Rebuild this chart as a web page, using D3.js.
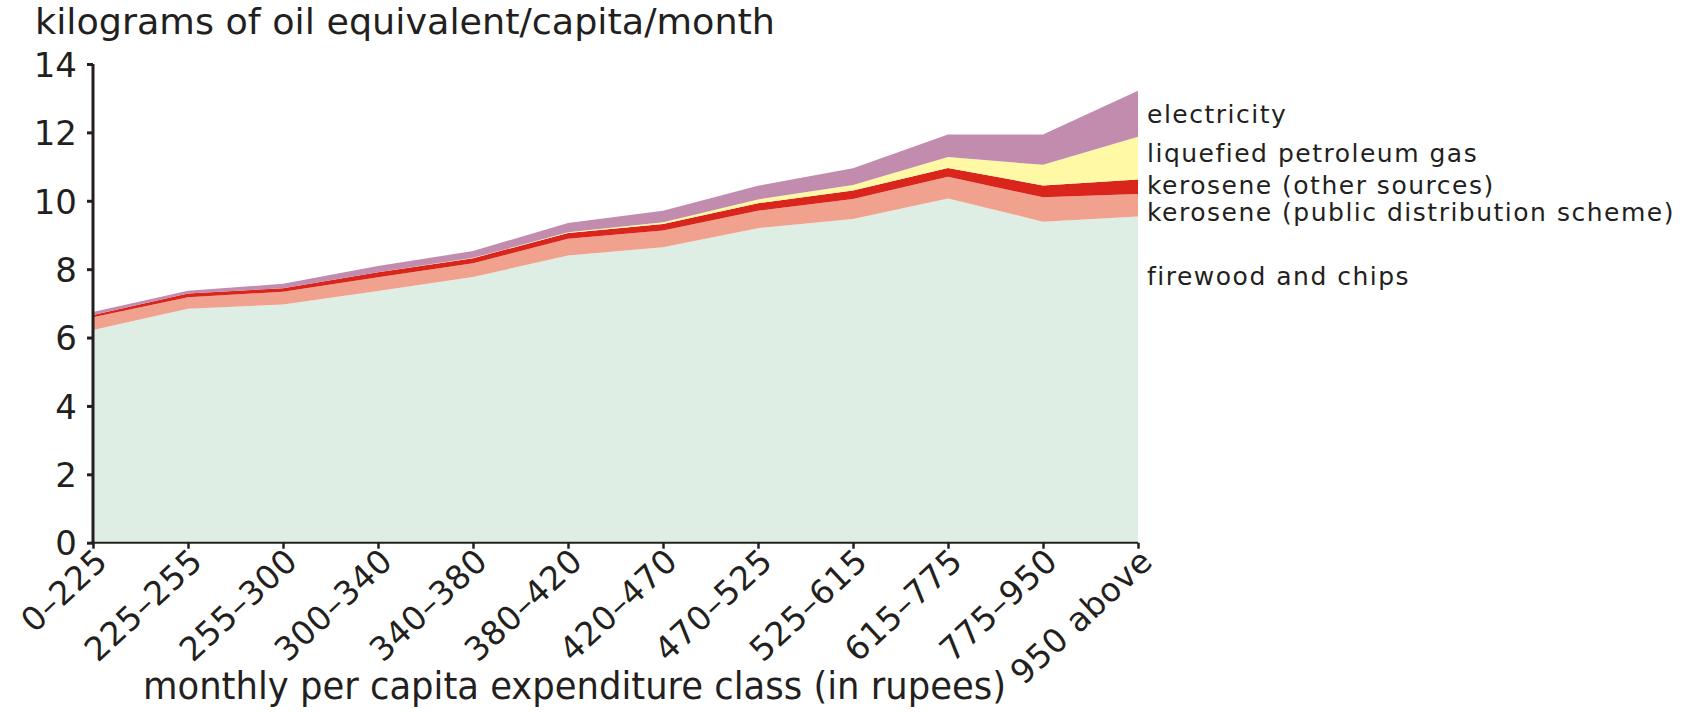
<!DOCTYPE html>
<html>
<head>
<meta charset="utf-8">
<script src="https://cdn.jsdelivr.net/npm/d3@7"></script>
<style>
  html, body { margin: 0; padding: 0; background: #ffffff; }
  svg { display: block; }
</style>
</head>
<body>
<svg id="chart" width="1683" height="712"></svg>
<script>
// ---- data ----
const categories = ["0–225", "225–255", "255–300", "300–340", "340–380", "380–420",
                    "420–470", "470–525", "525–615", "615–775", "775–950", "950 above"];
const firewood    = [6.22, 6.84, 6.97, 7.36, 7.77, 8.40, 8.64, 9.20, 9.47, 10.07, 9.39, 9.54];
const keroPDS     = [0.37, 0.34, 0.37, 0.40, 0.40, 0.49, 0.49, 0.51, 0.58, 0.63, 0.71, 0.66];
const keroOther   = [0.07, 0.11, 0.10, 0.15, 0.15, 0.17, 0.19, 0.22, 0.25, 0.26, 0.35, 0.42];
const lpg         = [0.00, 0.00, 0.00, 0.00, 0.01, 0.02, 0.05, 0.11, 0.16, 0.32, 0.60, 1.25];
const electricity = [0.09, 0.08, 0.13, 0.18, 0.20, 0.27, 0.34, 0.40, 0.49, 0.66, 0.89, 1.35];
const yTicks = [0, 2, 4, 6, 8, 10, 12, 14];
const seriesKeys   = ["firewood", "keroPDS", "keroOther", "lpg", "electricity"];
const seriesLabels = ["firewood and chips", "kerosene (public distribution scheme)",
                      "kerosene (other sources)", "liquefied petroleum gas", "electricity"];
const yTitle = "kilograms of oil equivalent/capita/month";
const xTitle = "monthly per capita expenditure class (in rupees)";

// ---- styles ----
const colors = { firewood: "#deeee4", keroPDS: "#f0a28f", keroOther: "#da251d", lpg: "#fff9a6", electricity: "#c18cad" };
const labelY = { electricity: 123, lpg: 162, keroOther: 194, keroPDS: 221, firewood: 285 };
const ink = "#231f20";
const condensed = "'Liberation Sans Narrow', 'DejaVu Sans Condensed', 'Arial Narrow', sans-serif";
const wide = "'DejaVu Sans', Verdana, sans-serif";

const table = categories.map((c, i) => ({
  cat: c, firewood: firewood[i], keroPDS: keroPDS[i], keroOther: keroOther[i],
  lpg: lpg[i], electricity: electricity[i]
}));

const svg = d3.select("#chart");
const x = d3.scalePoint().domain(categories).range([93, 1138]);
const y = d3.scaleLinear().domain([0, 14]).range([542.7, 64]);

const stacked = d3.stack().keys(seriesKeys)(table);
const area = d3.area()
  .x(d => x(d.data.cat))
  .y0(d => y(d[0]))
  .y1(d => y(d[1]));

svg.append("g").selectAll("path")
  .data(stacked)
  .join("path")
  .attr("d", area)
  .attr("fill", d => colors[d.key])
  .attr("stroke", "none");

// y axis
const yAxis = svg.append("g")
  .attr("transform", "translate(93,0)")
  .call(d3.axisLeft(y).tickValues(yTicks).tickSize(6).tickPadding(10).tickFormat(d3.format("d")));
yAxis.select(".domain").attr("d", `M0,${y(14)}V${y(0)}`).attr("stroke", ink).attr("stroke-width", 3);
yAxis.selectAll(".tick line").attr("stroke", ink).attr("stroke-width", 3);
yAxis.selectAll(".tick text")
  .attr("fill", ink)
  .style("font-family", wide)
  .style("font-size", "34px")
  .attr("dy", "0.36em");

// x axis
const xAxis = svg.append("g")
  .attr("transform", `translate(0,${y(0)})`)
  .call(d3.axisBottom(x).tickSize(6).tickPadding(0));
xAxis.select(".domain").attr("d", `M93,0H1138`).attr("stroke", ink).attr("stroke-width", 2);
xAxis.selectAll(".tick line").attr("stroke", ink).attr("stroke-width", 2.5);
xAxis.selectAll(".tick text")
  .attr("fill", ink)
  .style("font-family", wide)
  .style("font-size", "33px")
  .style("letter-spacing", "0.5px")
  .attr("text-anchor", "end")
  .attr("x", 0).attr("y", 0).attr("dy", 0)
  .attr("transform", "translate(16,21) rotate(-43)");

// titles
svg.append("text")
  .attr("x", 35).attr("y", 34)
  .attr("fill", ink)
  .style("font-family", condensed)
  .style("font-size", "36px")
  .attr("textLength", 740).attr("lengthAdjust", "spacingAndGlyphs")
  .text(yTitle);

svg.append("text")
  .attr("x", 143).attr("y", 699)
  .attr("fill", ink)
  .style("font-family", condensed)
  .style("font-size", "37px")
  .attr("textLength", 863).attr("lengthAdjust", "spacingAndGlyphs")
  .text(xTitle);

// series labels
svg.append("g").selectAll("text")
  .data(seriesKeys)
  .join("text")
  .attr("x", 1147)
  .attr("y", k => labelY[k])
  .attr("fill", ink)
  .style("font-family", wide)
  .style("font-size", "25px")
  .style("letter-spacing", "1.5px")
  .text(k => seriesLabels[seriesKeys.indexOf(k)]);
</script>
</body>
</html>
